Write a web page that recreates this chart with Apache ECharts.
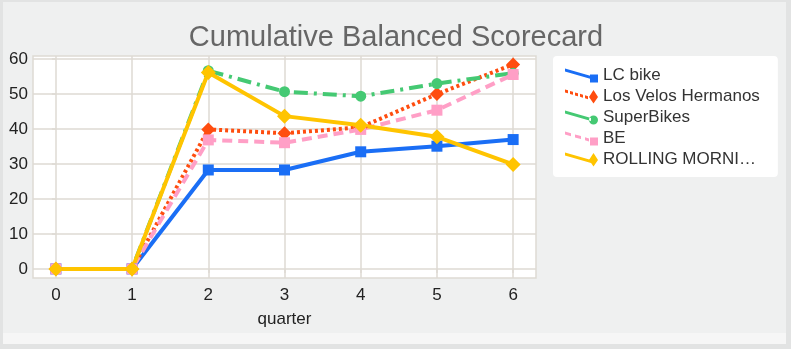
<!DOCTYPE html>
<html>
<head>
<meta charset="utf-8">
<script src="https://cdn.jsdelivr.net/npm/echarts@6/dist/echarts.min.js"></script>
<style>
  html, body { margin: 0; padding: 0; }
  #frame { position: absolute; left: 0; top: 0; width: 791px; height: 349px; background: #e2e3e3; }
  #strip { position: absolute; left: 3px; top: 2px; width: 783px; height: 342px; background: #f6f6f6; }
  #panel { position: absolute; left: 3px; top: 2px; width: 783px; height: 331px; background: #eff0f0; }
  #chart { position: absolute; left: 0; top: 0; width: 791px; height: 349px; }
</style>
</head>
<body>
<div id="frame"></div>
<div id="strip"></div>
<div id="panel"></div>
<div id="chart"></div>
<script>
// Quarters on the x axis
const quarters = [0, 1, 2, 3, 4, 5, 6];
// Score ticks on the y axis
const scoreTicks = [0, 10, 20, 30, 40, 50, 60];

// Cumulative scores per team
const lcBike       = [0, 0, 28.3, 28.3, 33.5, 35.1, 37.0];
const losVelos     = [0, 0, 39.9, 38.8, 40.5, 50.0, 58.5];
const superBikes   = [0, 0, 56.7, 50.7, 49.4, 53.0, 56.0];
const be           = [0, 0, 36.9, 36.1, 39.9, 45.4, 55.6];
const rolling      = [0, 0, 56.2, 43.7, 41.1, 37.8, 29.9];

const teamNames = ['LC bike', 'Los Velos Hermanos', 'SuperBikes', 'BE', 'ROLLING MORNI\u2026'];

const pairs = vals => quarters.map((q, i) => [q, vals[i]]);

// Legend key: a slanted stroke (solid or broken into dashes) ending in the series marker,
// drawn as one path in a 33 x 14 box.
function legendIcon(dash, marker) {
  const x1 = 26, y0 = 0, y1 = 7.5, h = 3;
  const yAt = x => y0 + (y1 - y0) * x / x1;
  const quad = (a, b) =>
    'M' + a + ',' + yAt(a) + ' L' + b + ',' + yAt(b) + ' L' + b + ',' + (yAt(b) + h) +
    ' L' + a + ',' + (yAt(a) + h) + ' Z ';
  let p = '';
  if (!dash) {
    p += quad(0, x1);
  } else {
    for (let x = 0; x < x1 - 2; x += dash[0] + dash[1]) p += quad(x, Math.min(x + dash[0], x1 - 2));
  }
  if (marker === 'rect') {
    p += 'M25,6 L33,6 L33,14 L25,14 Z';
  } else if (marker === 'circle') {
    p += 'M24,9.5 A4.5,4.5 0 1,0 33,9.5 A4.5,4.5 0 1,0 24,9.5 Z';
  } else {
    p += 'M28.5,0.5 L33,7.5 L28.5,14 L24,7.5 Z';
  }
  return 'path://' + p;
}

function lineSeries(name, vals, color, dash, symbol, size) {
  return {
    name: name,
    type: 'line',
    data: pairs(vals),
    symbol: symbol,
    symbolSize: size,
    lineStyle: { color: color, width: 4, type: dash },
    itemStyle: { color: color },
    emphasis: { disabled: true }
  };
}

const chart = echarts.init(document.getElementById('chart'), null, { renderer: 'canvas' });

const gridColor = '#dedad3';
const labelFont = 'Liberation Sans, Arial, sans-serif';

chart.setOption({
  backgroundColor: 'transparent',
  animation: false,
  title: {
    text: 'Cumulative Balanced Scorecard',
    left: 391,
    textAlign: 'center',
    top: 18,
    textStyle: { fontFamily: labelFont, fontSize: 29, fontWeight: 'normal', color: '#666666' }
  },
  legend: {
    orient: 'vertical',
    left: 553,
    top: 56,
    padding: [11, 18, 9, 12],
    backgroundColor: '#ffffff',
    borderRadius: 4,
    itemWidth: 33,
    itemHeight: 14,
    itemGap: 4,
    itemStyle: { borderWidth: 0 },
    lineStyle: { width: 0 },
    data: [
      { name: teamNames[0], icon: legendIcon(null, 'rect') },
      { name: teamNames[1], icon: legendIcon([3, 2], 'diamond') },
      { name: teamNames[2], icon: legendIcon(null, 'circle') },
      { name: teamNames[3], icon: legendIcon([6, 4], 'rect') },
      { name: teamNames[4], icon: legendIcon(null, 'diamond') }
    ],
    textStyle: { fontFamily: labelFont, fontSize: 17, color: '#333333' }
  },
  grid: {
    left: 33, top: 56, right: 255, bottom: 71,
    show: true,
    backgroundColor: '#ffffff',
    borderColor: gridColor,
    borderWidth: 1.5
  },
  xAxis: {
    type: 'value',
    min: -0.3, max: 6.3,
    name: 'quarter',
    nameLocation: 'middle',
    nameGap: 33,
    nameTextStyle: { fontFamily: labelFont, fontSize: 17, color: '#222222' },
    axisLine: { show: false },
    axisTick: { show: true, length: 4, customValues: quarters, lineStyle: { color: gridColor, width: 1.5 } },
    axisLabel: { fontFamily: labelFont, fontSize: 17, color: '#222222', margin: 9, customValues: quarters },
    splitLine: { show: true, lineStyle: { color: gridColor, width: 1.5 } }
  },
  yAxis: {
    type: 'value',
    min: -2.6, max: 60.9,
    axisLine: { show: false },
    axisTick: { show: true, length: 4, customValues: scoreTicks, lineStyle: { color: gridColor, width: 1.5 } },
    axisLabel: { fontFamily: labelFont, fontSize: 17, color: '#222222', margin: 5, customValues: scoreTicks },
    splitLine: { show: true, lineStyle: { color: gridColor, width: 1.5 } }
  },
  series: [
    lineSeries(teamNames[0], lcBike,     '#1a6ef5', 'solid',       'rect',    11),
    lineSeries(teamNames[1], losVelos,   '#ff4d0f', [3, 3],        'diamond', 14),
    lineSeries(teamNames[2], superBikes, '#45c973', [14, 6, 3, 6], 'circle',  11),
    lineSeries(teamNames[3], be,         '#ff9fc6', [10, 6],       'rect',    11),
    lineSeries(teamNames[4], rolling,    '#ffc400', 'solid',       'diamond', 15)
  ]
});
</script>
</body>
</html>
